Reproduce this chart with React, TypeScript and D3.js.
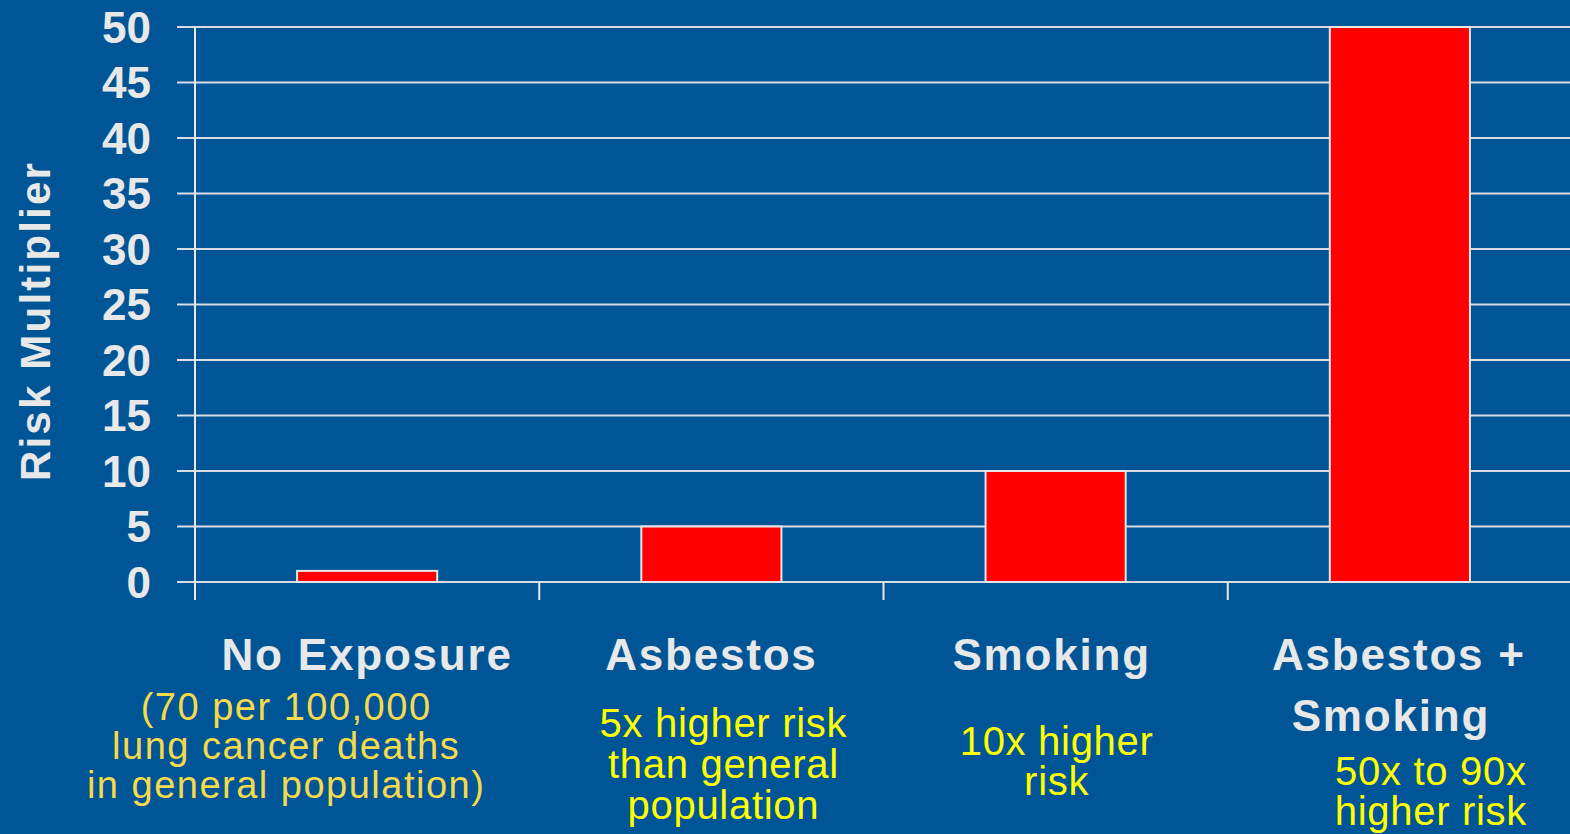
import React from "react";
import * as d3 from "d3";

const categories = ["No Exposure", "Asbestos", "Smoking", "Asbestos + Smoking"];
const riskValues = [1, 5, 10, 50];
const yTicks = [0, 5, 10, 15, 20, 25, 30, 35, 40, 45, 50];
const categoryLabelLines = [["No Exposure"], ["Asbestos"], ["Smoking"], ["Asbestos +", "Smoking"]];
const noteLines = [
  ["(70 per 100,000", "lung cancer deaths", "in general population)"],
  ["5x higher risk", "than general", "population"],
  ["10x higher", "risk"],
  ["50x to 90x", "higher risk"],
];
const yTitle = "Risk Multiplier";

const W = 1570;
const H = 834;
const BG = "#005596";
const FG = "#E8E8E8";

export default function App() {
  const x = d3.scaleBand<string>().domain(categories).range([195, 1572]).padding(0);
  const y = d3.scaleLinear().domain([0, 50]).range([582, 27]);
  const barW = x.bandwidth() * 0.407;

  const catPos = [
    [{ dx: 0, y: 670 }],
    [{ dx: 0, y: 670 }],
    [{ dx: -4, y: 670 }],
    [{ dx: -1, y: 670 }, { dx: -9, y: 731 }],
  ];
  const notePos = [
    { dx: -81, y0: 720, lh: 39, fill: "#F5DA4C", fs: 38, ls: 1.5 },
    { dx: 12, y0: 737, lh: 41, fill: "#FFFF00", fs: 40, ls: 0.7 },
    { dx: 1, y0: 755, lh: 40, fill: "#FFFF00", fs: 40, ls: 0.7 },
    { dx: 31, y0: 785, lh: 40, fill: "#FFFF00", fs: 40, ls: 0.7 },
  ];

  return (
    <svg width={W} height={H} style={{ position: "absolute", left: 0, top: 0, display: "block" }}
      fontFamily="'Liberation Sans', Arial, sans-serif">
      <rect x={0} y={0} width={W} height={H} fill={BG} />
      {yTicks.map((t) => (
        <line key={"g" + t} x1={177} x2={W} y1={y(t)} y2={y(t)} stroke="#D9DDE3" strokeWidth={2.2} />
      ))}
      {yTicks.map((t) => (
        <text key={"t" + t} x={151} y={y(t)} dy="0.36em" textAnchor="end" fill={FG}
          fontSize={44} fontWeight="bold">{t}</text>
      ))}
      <line x1={195} x2={195} y1={y(50)} y2={600} stroke={FG} strokeWidth={2} />
      {categories.map((c) => (
        <line key={"tk" + c} x1={(x(c) as number)} x2={(x(c) as number)} y1={582} y2={600}
          stroke={FG} strokeWidth={2} />
      ))}
      {categories.map((c, i) => {
        const cx = (x(c) as number) + x.bandwidth() / 2;
        return (
          <rect key={"b" + c} x={cx - barW / 2} y={y(riskValues[i])} width={barW}
            height={y(0) - y(riskValues[i])} fill="#FF0000" stroke="#E6E6E6" strokeWidth={2} />
        );
      })}
      <text transform={`translate(50,321) rotate(-90)`} textAnchor="middle" fill={FG}
        fontSize={42} fontWeight="bold" letterSpacing={2.2}>{yTitle}</text>
      {categories.map((c, i) => {
        const cx = (x(c) as number) + x.bandwidth() / 2;
        return categoryLabelLines[i].map((line, j) => (
          <text key={"cl" + i + j} x={cx + catPos[i][j].dx} y={catPos[i][j].y} textAnchor="middle"
            fill={FG} fontSize={44} fontWeight="bold" letterSpacing={1.8}>{line}</text>
        ));
      })}
      {categories.map((c, i) => {
        const cx = (x(c) as number) + x.bandwidth() / 2;
        const p = notePos[i];
        return noteLines[i].map((line, j) => (
          <text key={"n" + i + j} x={cx + p.dx} y={p.y0 + j * p.lh} textAnchor="middle"
            fill={p.fill} fontSize={p.fs} letterSpacing={p.ls}>{line}</text>
        ));
      })}
    </svg>
  );
}
